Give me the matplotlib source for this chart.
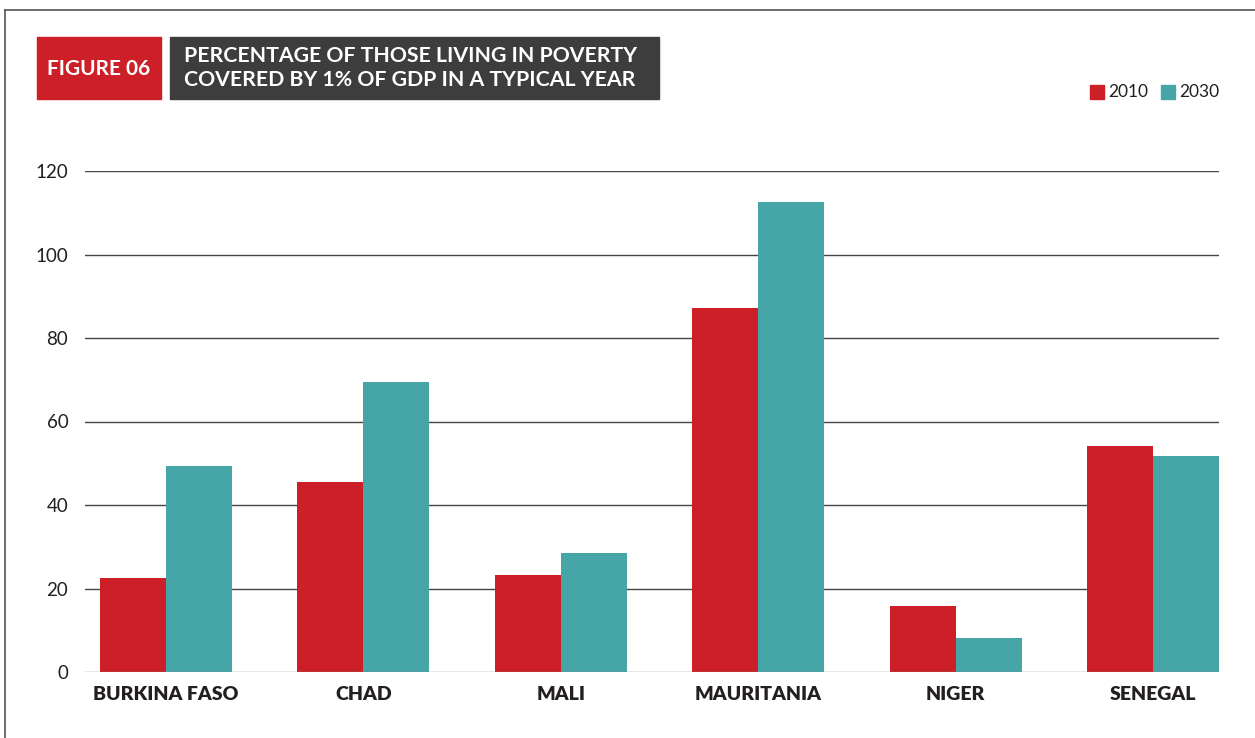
import matplotlib
matplotlib.use("Agg")
import matplotlib.pyplot as plt
from matplotlib.patches import Rectangle
import numpy as np

countries = ["BURKINA FASO", "CHAD", "MALI", "MAURITANIA", "NIGER", "SENEGAL"]
years = ["2010", "2030"]
vals_2010 = [22.5, 45.5, 23.2, 87.2, 15.8, 54.1]
vals_2030 = [49.3, 69.5, 28.5, 112.6, 8.1, 51.7]
yticks = [0, 20, 40, 60, 80, 100, 120]

RED = "#cc1f27"
TEAL = "#45a5a7"
DARK = "#3d3d3d"
TXT = "#231f20"

W, H = 1255, 738
plt.rcParams['font.family'] = ['Lato', 'DejaVu Sans']

fig = plt.figure(figsize=(W / 100, H / 100), dpi=100)
fig.patch.set_facecolor("white")


def fx(px):
    return px / W


def fy(py):
    return 1 - py / H


# outer frame (top and left lines)
fig.add_artist(plt.Line2D([fx(5), fx(1255)], [fy(10), fy(10)], color="#555555", lw=1.2))
fig.add_artist(plt.Line2D([fx(5), fx(5)], [fy(10), fy(738)], color="#555555", lw=1.2))

# title boxes
fig.add_artist(Rectangle((fx(37), fy(99)), fx(161) - fx(37), fy(37) - fy(99),
                         transform=fig.transFigure, color=RED))
fig.add_artist(Rectangle((fx(170), fy(99)), fx(659) - fx(170), fy(37) - fy(99),
                         transform=fig.transFigure, color=DARK))
fig.text(fx(99), fy(69), "FIGURE 06", color="white", fontsize=15,
         fontweight="bold", ha="center", va="center")
fig.text(fx(184), fy(68), "PERCENTAGE OF THOSE LIVING IN POVERTY\nCOVERED BY 1% OF GDP IN A TYPICAL YEAR",
         color="white", fontsize=15.3, fontweight="bold", ha="left", va="center",
         linespacing=1.2)

# legend
for i, (yr, col) in enumerate(zip(years, [RED, TEAL])):
    x0 = 1090 + i * 71
    fig.add_artist(Rectangle((fx(x0), fy(99)), fx(14), 14 / H,
                             transform=fig.transFigure, color=col))
    fig.text(fx(x0 + 18), fy(92), yr, color=TXT, fontsize=12.5, ha="left", va="center")

# axes
left, right, top, bottom = 85, 1219, 171, 672
ax = fig.add_axes([fx(left), fy(bottom), fx(right) - fx(left), (bottom - top) / H])

x = np.arange(len(countries))
bw = 0.334
ax.bar(x - bw / 2, vals_2010, bw, color=RED, zorder=3)
ax.bar(x + bw / 2, vals_2030, bw, color=TEAL, zorder=3)

ax.set_xlim(-0.41, len(countries) - 1 + bw)
ax.set_ylim(0, 120)
ax.set_yticks(yticks)
for t in yticks:
    ax.axhline(t, color="#888888" if t == 0 else "#444444", lw=1.0, zorder=1 if t else 4)

for s in ax.spines.values():
    s.set_visible(False)
ax.tick_params(axis="y", length=0, pad=12, labelsize=13.5, labelcolor=TXT)
ax.tick_params(axis="x", length=0, pad=10, labelsize=14, labelcolor=TXT)
ax.set_xticks(x)
ax.set_xticklabels(countries, fontweight="heavy")

fig.savefig("out.png", dpi=100)
